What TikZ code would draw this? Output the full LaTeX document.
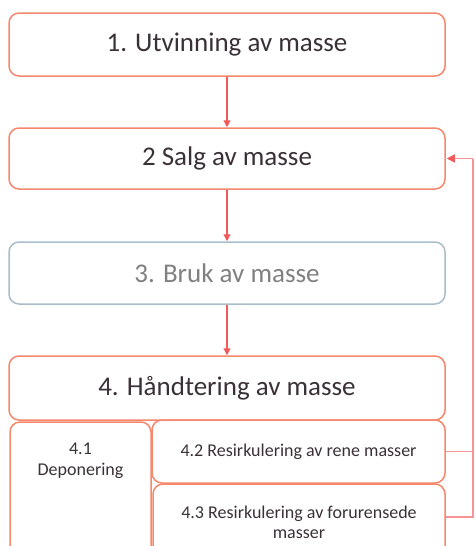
\documentclass[tikz,border=0pt]{standalone}
\usepackage{fontspec}
\setmainfont{Carlito}
\usetikzlibrary{arrows.meta}
\definecolor{boxline}{HTML}{F4876C}
\definecolor{greyline}{HTML}{A8BDC9}
\definecolor{arrowred}{HTML}{F25A5A}
\definecolor{backline}{HTML}{F79595}
\definecolor{textdark}{HTML}{3A3136}
\definecolor{textgrey}{HTML}{808080}

\begin{document}
\begin{tikzpicture}[x=1pt, y=-1pt,
  box/.style={draw=boxline, line width=1.5pt, rounded corners=10pt, inner sep=0pt,
    minimum width=436pt, text=textdark, font=\fontsize{27}{32}\selectfont},
  greybox/.style={box, draw=greyline, text=textgrey},
  subbox/.style={box, minimum width=0pt, align=center, font=\fontsize{18}{20}\selectfont},
  flow/.style={draw=arrowred, line width=1.2pt, -{Triangle[width=7pt,length=7pt]}},
  back/.style={draw=backline, line width=1.5pt}]
\useasboundingbox (0,0) rectangle (475,546);

\node[box, minimum height=63pt] (utv) at (227,44.5) {1. Utvinning av masse};
\node[box, minimum height=61pt] (salg) at (227,158.5) {2 Salg av masse};
\node[greybox, minimum height=62pt] (bruk) at (227,273) {3. Bruk av masse};
\node[box, minimum height=64pt] (hand) at (227,388) {4. Håndtering av masse};

\node[subbox, minimum width=141pt, minimum height=148pt,
  label={[anchor=north, yshift=-18pt, align=center, text=textdark,
    font=\fontsize{18}{21}\selectfont]north:4.1\\Deponering}] (dep) at (80.5,496) {};
\node[subbox, minimum width=293pt, minimum height=63pt] (ren) at (298.5,451.5) {4.2 Resirkulering av rene masser};
\node[subbox, minimum width=292pt, minimum height=76pt] (foru) at (299,522) {4.3 Resirkulering av forurensede\\masser};

\coordinate (mid) at (473,451.5);
\coordinate (low) at (473,517);

\draw [flow] (utv) to (salg);
\draw [flow] (salg) to (bruk);
\draw [flow] (bruk) to (hand);

\draw [back] (ren.east) -- (mid);
\draw [back] (foru.east |- low) -- (low) -- (salg.east -| low);
\draw [back, -{Triangle[width=8pt,length=8pt,color=arrowred]}, shorten >=1pt] (salg.east -| low) -- (salg.east);
\end{tikzpicture}
\end{document}
